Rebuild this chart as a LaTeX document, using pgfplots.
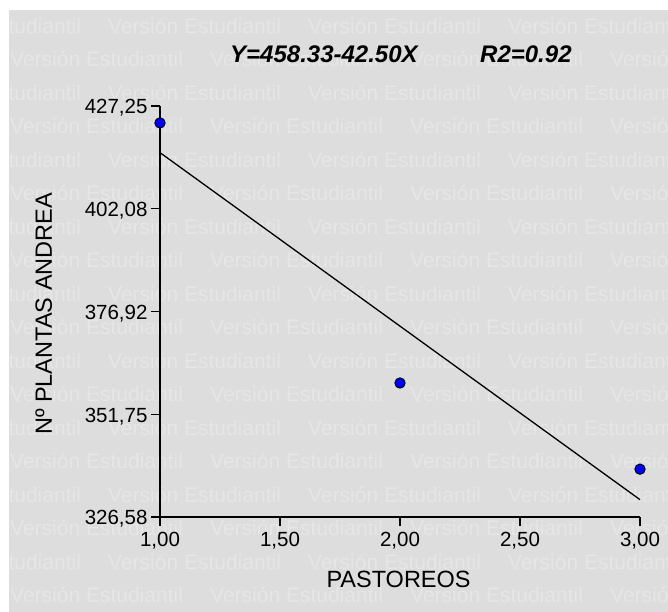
\documentclass[border=0pt]{standalone}
\usepackage{pgfplots}
\pgfplotsset{compat=1.18}
\usepackage{fontspec}
\setmainfont{Liberation Sans}
\definecolor{bg}{RGB}{221,221,221}
\definecolor{wm}{RGB}{230,230,230}
\definecolor{ptblue}{RGB}{0,0,255}
\begin{document}
\begin{tikzpicture}
\useasboundingbox (0bp,0bp) rectangle (668bp,-612bp);
\fill[white] (0bp,0bp) rectangle (668bp,-612bp);
\fill[bg] (9bp,-10bp) rectangle (668bp,-612bp);
\begin{scope}
\clip (9bp,-10bp) rectangle (668bp,-612bp);
\foreach \k in {0,...,17} {
  \pgfmathsetmacro{\yy}{-33-33.5*\k}
  \pgfmathsetmacro{\xoff}{ifthenelse(mod(\k,2)==1,10,108)}
  \foreach \n in {-1,0,1,2,3} {
    \node[anchor=base west, inner sep=0pt, text=wm, font=\fontsize{21bp}{21bp}\selectfont] at ({(\xoff+200*\n)*1bp},{\yy*1bp}) {Versión Estudiantil};
  }
}
\end{scope}
\node[anchor=base west, inner sep=0pt, font=\fontsize{24bp}{24bp}\selectfont\bfseries\itshape] at (230bp,-62bp) {Y=458.33-42.50X};
\node[anchor=base west, inner sep=0pt, font=\fontsize{24bp}{24bp}\selectfont\bfseries\itshape] at (480bp,-62bp) {R2=0.92};
\begin{axis}[
  at={(160bp,-517bp)}, anchor=south west,
  scale only axis, width=480bp, height=411bp,
  xmin=1, xmax=3, ymin=326.58, ymax=427.25,
  axis x line*=bottom, axis y line*=left,
  axis line style={black, line width=1.4bp, -},
  xtick={1,1.5,2,2.5,3},
  xticklabels={{1,00},{1,50},{2,00},{2,50},{3,00}},
  ytick={326.58,351.75,376.92,402.08,427.25},
  yticklabels={{326,58},{351,75},{376,92},{402,08},{427,25}},
  tick align=outside, major tick length=9bp,
  tick style={black, line width=1.4bp},
  ticklabel style={font=\fontsize{20.5bp}{20.5bp}\selectfont},
  xticklabel style={yshift=-3bp},
  yticklabel style={yshift=-2bp},
  xlabel={PASTOREOS}, ylabel={Nº PLANTAS ANDREA},
  label style={font=\fontsize{23.5bp}{23.5bp}\selectfont},
  xlabel style={at={(axis description cs:0.497,-0.1703)}, anchor=base},
  ylabel style={at={(axis description cs:-0.225,0.494)}, anchor=base},
  clip=false,
]
\addplot[black, line width=1.3bp] coordinates {(1,415.83) (3,330.83)};
\addplot[only marks, mark=*, mark size=5.2bp, mark options={fill=ptblue, draw=black, line width=0.9bp}] coordinates {(1,423.1) (2,359.4) (3,338.3)};
\end{axis}
\end{tikzpicture}
\end{document}
